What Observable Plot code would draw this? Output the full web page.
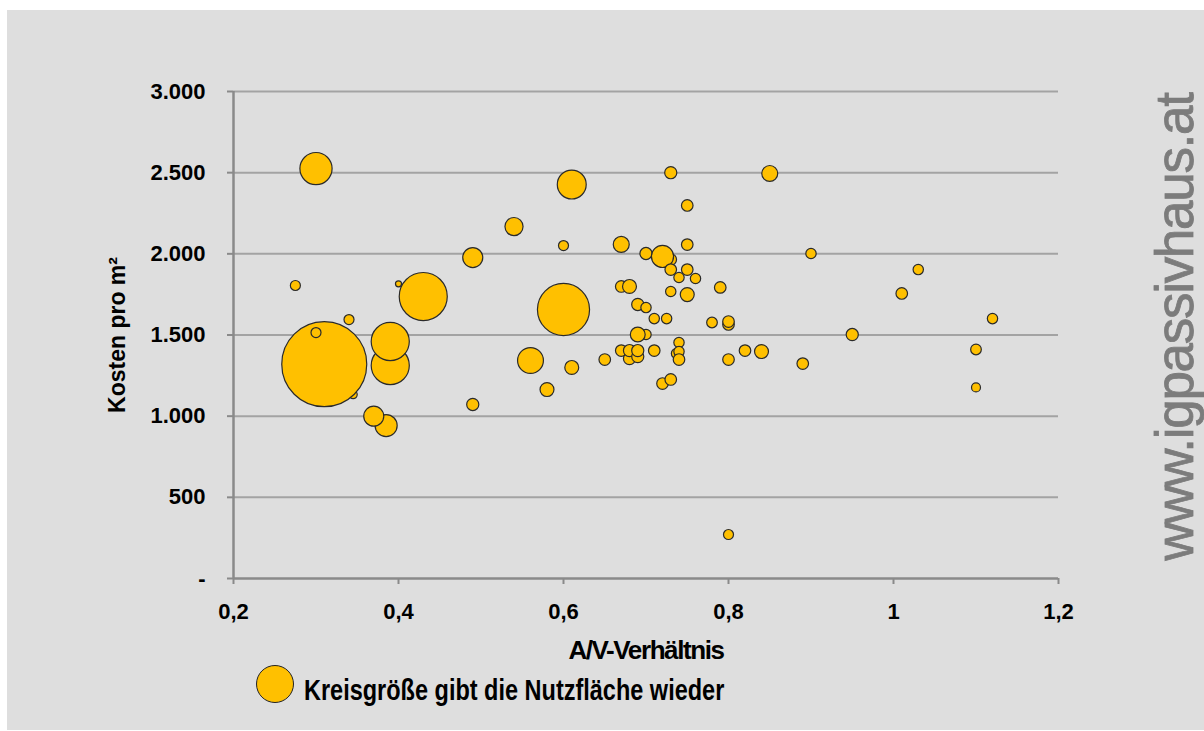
<!DOCTYPE html>
<html>
<head>
<meta charset="utf-8">
<script src="https://cdn.jsdelivr.net/npm/d3@7"></script>
<script src="https://cdn.jsdelivr.net/npm/@observablehq/plot@0.6"></script>
<style>
  body { margin: 0; background: #ffffff; }
  #wrap { position: relative; width: 1204px; height: 731px; overflow: hidden; }
  #bg { position: absolute; left: 7px; top: 10px; width: 1197px; height: 720px; background: #dedede; }
  #chart { position: absolute; left: 0; top: 0; }
  #chart svg { display: block; }
  g[aria-label="x-axis label"] text {
    font-family: "Liberation Sans", Arial, sans-serif;
    font-size: 26px; font-weight: bold; letter-spacing: -1.4px;
  }
  g[aria-label="y-axis label"] text {
    font-family: "Liberation Sans", Arial, sans-serif;
    font-size: 23px; font-weight: bold;
  }
  #legendDot { position: absolute; left: 256px; top: 665px; width: 38px; height: 38px; box-sizing: border-box;
    border: 1.5px solid #222; border-radius: 50%; background: #ffc000; }
  #legendText { position: absolute; left: 304px; top: 676px; line-height: 29px; font-size: 29px; font-weight: bold;
    font-family: "Liberation Sans", Arial, sans-serif; color: #000; white-space: nowrap;
    transform: scaleX(0.81); transform-origin: 0 50%; }
  #watermark { position: absolute; left: 1174px; top: 327px; transform: translate(-50%, -50%) rotate(-90deg);
    font-family: "Liberation Sans", Arial, sans-serif; font-size: 53px; line-height: 1; letter-spacing: -1.3px;
    color: #7c7c7c; white-space: nowrap; -webkit-text-stroke: 0.8px #7c7c7c; }
</style>
</head>
<body>
<div id="wrap">
  <div id="bg"></div>
  <div id="chart"></div>
  <div id="legendDot"></div>
  <div id="legendText">Kreisgröße gibt die Nutzfläche wieder</div>
  <div id="watermark">www.igpassivhaus.at</div>
</div>
<script>
// A/V-Verhältnis (x), Kosten pro m² (y), Nutzfläche (bubble size, m²) – in drawing order
const avRatio = [0.30, 0.275, 0.345, 0.31, 0.30, 0.34, 0.40, 0.43, 0.39, 0.39, 0.385, 0.37,
  0.49, 0.49, 0.54, 0.56, 0.58, 0.60, 0.60, 0.61, 0.61, 0.65,
  0.67, 0.67, 0.68, 0.67, 0.68, 0.68, 0.69, 0.69, 0.69, 0.70, 0.70, 0.69,
  0.70, 0.71, 0.71, 0.725, 0.73, 0.72, 0.72, 0.73, 0.73, 0.73, 0.73,
  0.74, 0.74, 0.737, 0.74, 0.74, 0.75, 0.75, 0.75, 0.75, 0.76, 0.78, 0.79,
  0.80, 0.80, 0.80, 0.80, 0.82, 0.84, 0.85, 0.89, 0.90, 0.95, 1.01, 1.03, 1.10, 1.10, 1.12];
const kosten = [2525, 1805, 1133, 1320, 1515, 1595, 1815, 1737, 1312, 1460, 942, 1000,
  1977, 1072, 2168, 1343, 1164, 2051, 1657, 2427, 1300, 1349,
  2058, 1799, 1799, 1404, 1355, 1404, 1367, 1404, 1688, 1669, 1503, 1503,
  2002, 1601, 1404, 1601, 1965, 1984, 1201, 1226, 2500, 1903, 1768,
  1854, 1454, 1386, 1398, 1349, 2298, 2057, 1903, 1749, 1848, 1577, 1793,
  1565, 1583, 1349, 271, 1404, 1398, 2495, 1324, 2002, 1503, 1756, 1903, 1411, 1177, 1601];
const nutzflaeche = [1550, 150, 100, 10800, 150, 150, 55, 3450, 2170, 2170, 730, 600,
  600, 220, 490, 1000, 290, 150, 4060, 1250, 290, 200,
  380, 200, 290, 200, 220, 220, 220, 220, 220, 160, 160, 330,
  220, 160, 200, 160, 200, 730, 200, 200, 220, 200, 160,
  160, 160, 160, 160, 200, 200, 200, 200, 290, 160, 170, 200,
  200, 200, 200, 150, 200, 290, 380, 200, 160, 220, 200, 160, 170, 120, 160];

const xTicks = [0.2, 0.4, 0.6, 0.8, 1.0, 1.2];
const xTickLabels = ["0,2", "0,4", "0,6", "0,8", "1", "1,2"];
const yTicks = [0, 500, 1000, 1500, 2000, 2500, 3000];
const yTickLabels = ["-", "500", "1.000", "1.500", "2.000", "2.500", "3.000"];

const chart = Plot.plot({
  width: 1204,
  height: 731,
  marginLeft: 233,
  marginRight: 146,
  marginTop: 91,
  marginBottom: 153,
  style: { background: "transparent", fontFamily: "'Liberation Sans', Arial, sans-serif", color: "#000", overflow: "visible" },
  x: { domain: [0.2, 1.2] },
  y: { domain: [0, 3000] },
  r: { type: "sqrt", domain: [0, 10800], range: [0, 42.5] },
  marks: [
    Plot.ruleY(yTicks.slice(1), { stroke: "#a3a3a3", strokeWidth: 2 }),
    Plot.ruleX([0.2], { stroke: "#8a8a8a", strokeWidth: 2.5 }),
    Plot.ruleY([0], { stroke: "#8a8a8a", strokeWidth: 2.5 }),
    Plot.axisX({
      ticks: xTicks,
      tickFormat: d => xTickLabels[xTicks.indexOf(d)],
      tickSize: 6, tickPadding: 19,
      stroke: "#8a8a8a", strokeWidth: 2, color: "#000",
      fontSize: 22, fontWeight: "bold",
      label: "A/V-Verhältnis", labelAnchor: "center", labelArrow: "none", labelOffset: 80
    }),
    Plot.axisY({
      ticks: yTicks,
      tickFormat: d => yTickLabels[yTicks.indexOf(d)],
      tickSize: 6, tickPadding: 22,
      stroke: "#8a8a8a", strokeWidth: 2, color: "#000",
      fontSize: 22, fontWeight: "bold",
      label: "Kosten pro m²", labelAnchor: "center", labelArrow: "none", labelOffset: 125
    }),
    Plot.dot(d3.range(avRatio.length), {
      x: avRatio, y: kosten, r: nutzflaeche,
      fill: "#ffc000", stroke: "#2a2a2a", strokeWidth: 1.2,
      sort: null
    })
  ]
});
document.getElementById("chart").appendChild(chart);
</script>
</body>
</html>
